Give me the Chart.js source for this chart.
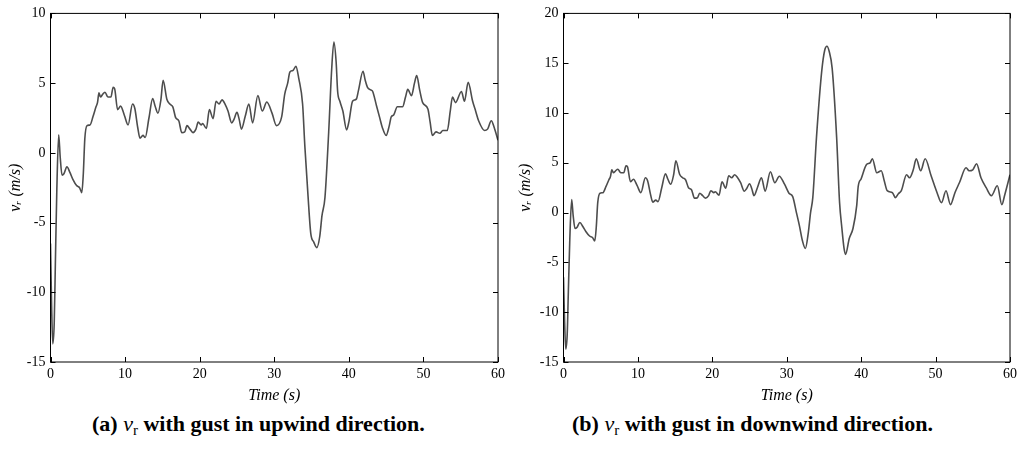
<!DOCTYPE html>
<html>
<head>
<meta charset="utf-8">
<script src="https://cdn.jsdelivr.net/npm/chart.js@4"></script>
<style>
    body { margin: 0; background: #fff; width: 1021px; height: 450px; position: relative; overflow: hidden; }
    canvas { position: absolute; top: 0; }
    #chart-up { left: 0; }
    #chart-down { left: 510px; }
    .caption { position: absolute; top: 411px; font: bold 22px "Liberation Serif", serif; white-space: nowrap; }
    .caption i { font-weight: normal; }
    .caption sub { font-weight: normal; font-size: 15px; vertical-align: -4px; line-height: 0; }
</style>
</head>
<body>
<canvas id="chart-up" width="510" height="410"></canvas>
<canvas id="chart-down" width="511" height="410"></canvas>
<div class="caption" style="left:92px">(a) <i>v</i><sub>r</sub> with gust in upwind direction.</div>
<div class="caption" style="left:572px">(b) <i>v</i><sub>r</sub> with gust in downwind direction.</div>
<script>
// shared part of both runs (before the gust hits), time in s, speed in m/s
const timeBase = [0, 0.15, 0.3, 0.5, 0.65, 0.85, 1.1, 1.3, 1.55, 1.8, 2.2, 2.6, 3.0, 3.5, 3.9, 4.2, 4.4, 4.6, 4.9, 5.3,
    5.7, 6.1, 6.3, 6.5, 6.7, 7.0, 7.3, 7.7, 8.1, 8.4, 8.6, 9.0, 9.4, 9.9, 10.4, 11.0, 11.3, 11.7, 12.0, 12.4,
    12.7, 13.2, 13.7, 14.0, 14.4, 14.8, 15.1, 15.6, 16.0, 16.4, 16.8, 17.2, 17.6, 18.0, 18.3, 18.7, 19.1, 19.5, 19.8, 20.2,
    20.4, 20.9, 21.3, 21.8, 22.2, 22.6, 23.0, 23.4, 23.8, 24.3, 24.6, 25.0, 25.3, 25.6, 26.1, 26.6, 27.1, 27.8, 28.4, 29.0,
    29.7, 30.3];
const speedBase = [-6.5, -11, -13.7, -12.2, -8, -2.6, 1.3, -0.3, -1.6, -1.5, -1.0, -1.4, -1.9, -2.35, -2.5, -2.85, -1.5, 1.0, 1.95, 2.0,
    2.6, 3.3, 3.6, 4.3, 4.0, 4.2, 4.35, 4.0, 4.0, 4.7, 4.6, 3.1, 3.35, 2.7, 2.0, 3.5, 3.2, 1.8, 1.05, 1.25,
    1.1, 2.5, 3.9, 3.4, 2.85, 3.8, 5.2, 3.85, 3.5, 3.3, 2.5, 2.3, 1.45, 1.5, 1.95, 1.7, 1.45, 1.7, 2.2, 2.0,
    2.1, 1.75, 3.1, 2.45, 3.7, 3.5, 3.8, 3.5, 3.0, 2.15, 2.4, 2.9, 2.4, 1.7, 2.6, 3.5, 2.15, 4.1, 3.0, 3.65,
    2.85, 1.95];

// (a) gust in upwind direction
const timeUp = [31.0, 31.4, 31.8, 32.1, 32.5, 32.9, 33.3, 33.8, 34.1, 34.5, 34.9, 35.3, 35.7, 36.1, 36.4, 36.8, 37.3, 37.7, 38.0, 38.3,
    38.5, 38.8, 39.2, 39.7, 40.0, 40.5, 41.0, 41.3, 41.9, 42.2, 42.5, 43.0, 43.2, 43.7, 44.1, 44.5, 45.0, 45.4, 45.7, 46.0,
    46.5, 47.2, 47.6, 47.9, 48.4, 48.8, 49.1, 49.5, 49.9, 50.6, 50.9, 51.2, 51.7, 52.2, 52.6, 53.2, 53.6, 53.9, 54.3, 55.1,
    55.5, 56.0, 56.6, 57.0, 57.4, 58.2, 58.6, 59.1, 59.5, 60.0];
const speedUp = [2.6, 4.2, 5.0, 5.8, 5.9, 6.2, 5.3, 3.5, 0.5, -2.85, -5.8, -6.4, -6.8, -6.0, -4.5, -3.2, 1.5, 6.0, 7.95, 6.5,
    4.4, 3.7, 3.0, 1.65, 2.2, 3.7, 3.85, 4.5, 5.85, 5.2, 4.7, 4.5, 4.4, 3.4, 2.6, 1.8, 1.25, 1.9, 2.6, 2.7,
    3.3, 3.3, 4.0, 4.55, 4.1, 5.0, 5.55, 4.5, 3.6, 3.15, 2.2, 1.25, 1.5, 1.4, 1.6, 1.6, 3.0, 4.0, 3.6, 4.4,
    3.7, 5.05, 3.7, 3.0, 2.3, 1.6, 1.7, 2.3, 1.8, 0.9];

// (b) gust in downwind direction
const timeDown = [30.8, 31.3, 31.7, 32.1, 32.5, 32.9, 33.2, 33.5, 34.0, 34.7, 35.1, 35.4, 35.7, 36.1, 36.7, 37.1, 37.4, 37.7, 37.9, 38.4,
    38.9, 39.4, 39.6, 40.0, 40.7, 41.2, 41.5, 42.1, 42.7, 43.1, 43.5, 44.2, 44.6, 45.0, 45.4, 46.1, 46.5, 47.0, 47.4, 48.0,
    48.6, 49.4, 50.2, 50.8, 51.4, 52.0, 52.6, 53.2, 54.1, 54.5, 55.0, 55.5, 56.1, 56.8, 57.5, 58.3, 58.9, 59.3, 60.0];
const speedDown = [1.6, 0.0, -1.3, -2.8, -3.6, -2.0, 0.0, 1.5, 7.6, 14.2, 16.3, 16.7, 16.2, 14.5, 7.6, 1.0, -1.5, -3.6, -4.2, -2.6,
    -1.6, 0.7, 2.6, 3.4, 4.8, 5.0, 5.4, 4.0, 4.2, 3.2, 2.2, 2.0, 1.5, 1.9, 2.2, 3.8, 3.5, 4.3, 5.4, 4.2,
    5.4, 3.7, 2.0, 1.0, 2.2, 0.8, 2.0, 3.0, 4.5, 4.2, 4.3, 4.9, 3.5, 2.5, 1.7, 2.7, 0.8, 1.8, 3.8];

const timeTicks = [0, 10, 20, 30, 40, 50, 60];
const speedTicksUp = [-15, -10, -5, 0, 5, 10];
const speedTicksDown = [-15, -10, -5, 0, 5, 10, 15, 20];

const serif = '"Liberation Serif", "DejaVu Serif", serif';
const lineColor = "#4d4d4d";

// closed box with short inward ticks on all four sides
const boxTicks = {
    id: "boxTicks",
    afterDraw(chart) {
        const { ctx, chartArea: a, scales: { x, y } } = chart;
        const len = 5;
        ctx.save();
        ctx.strokeStyle = "#000";
        ctx.lineWidth = 1;
        ctx.strokeRect(a.left, a.top, a.right - a.left, a.bottom - a.top);
        ctx.beginPath();
        x.ticks.forEach((t) => {
            const px = Math.round(x.getPixelForValue(t.value)) + 0.5;
            ctx.moveTo(px, a.bottom); ctx.lineTo(px, a.bottom - len);
            ctx.moveTo(px, a.top); ctx.lineTo(px, a.top + len);
        });
        y.ticks.forEach((t) => {
            const py = Math.round(y.getPixelForValue(t.value)) + 0.5;
            ctx.moveTo(a.left, py); ctx.lineTo(a.left + len, py);
            ctx.moveTo(a.right, py); ctx.lineTo(a.right - len, py);
        });
        ctx.stroke();
        ctx.restore();
    },
};

function toPoints(times, speeds) {
    return times.map((t, i) => ({ x: t, y: speeds[i] }));
}

function makeChart(id, times, speeds, yTicks, yWidth, padRight) {
    const ctx = document.getElementById(id).getContext("2d");
    return new Chart(ctx, {
        type: "line",
        data: {
            datasets: [{
                data: toPoints(times, speeds),
                borderColor: lineColor,
                borderWidth: 1.6,
                pointRadius: 0,
                cubicInterpolationMode: "monotone",
                fill: false,
            }],
        },
        options: {
            responsive: false,
            animation: false,
            layout: { padding: { left: 0.5, right: padRight, top: 8.5, bottom: 0 } },
            plugins: { legend: { display: false }, tooltip: { enabled: false } },
            scales: {
                x: {
                    type: "linear",
                    min: timeTicks[0],
                    max: timeTicks[timeTicks.length - 1],
                    ticks: { stepSize: timeTicks[1] - timeTicks[0], padding: 4, color: "#000", font: { family: serif, size: 14 } },
                    grid: { display: false, drawTicks: false },
                    border: { display: false },
                    title: { display: true, text: "Time (s)", color: "#000", padding: { top: 0, bottom: 5 }, font: { family: serif, size: 16, style: "italic" } },
                    afterFit: (s) => { s.height = 48; },
                },
                y: {
                    min: yTicks[0],
                    max: yTicks[yTicks.length - 1],
                    ticks: { stepSize: yTicks[1] - yTicks[0], padding: 5, color: "#000", font: { family: serif, size: 14 } },
                    grid: { display: false, drawTicks: false },
                    border: { display: false },
                    title: { display: true, text: "vᵣ (m/s)", color: "#000", padding: { top: 6, bottom: 0 }, font: { family: serif, size: 16, style: "italic" } },
                    afterFit: (s) => { s.width = yWidth; },
                },
            },
        },
        plugins: [boxTicks],
    });
}

makeChart("chart-up", timeBase.concat(timeUp), speedBase.concat(speedUp), speedTicksUp, 50, 12);
makeChart("chart-down", timeBase.concat(timeDown), speedBase.concat(speedDown), speedTicksDown, 53, 10);
</script>
</body>
</html>
